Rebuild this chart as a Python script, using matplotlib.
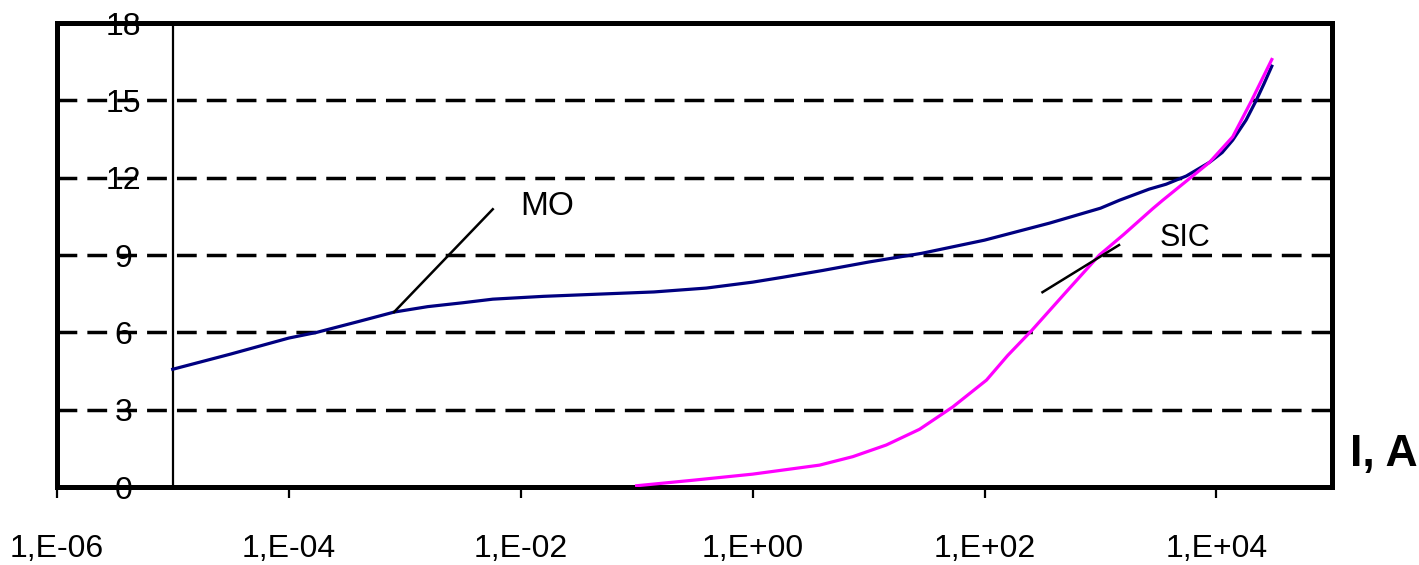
import matplotlib
matplotlib.use("Agg")
import matplotlib.pyplot as plt

# MO curve: current (A) vs voltage
mo_i = [1e-5, 3.16e-5, 1e-4, 1.74e-4, 3.98e-4, 8.13e-4, 1.58e-3, 3.16e-3,
        5.75e-3, 1.58e-2, 5.01e-2, 0.141, 0.398, 1.0, 1.82, 3.98, 10, 28.8,
        100, 363, 1000, 1459, 2630, 3680, 5500, 8710, 11200, 13800, 18000,
        22000, 25700, 30000]
mo_u = [4.57, 5.16, 5.78, 6.0, 6.42, 6.79, 7.0, 7.15, 7.29, 7.40, 7.49, 7.57,
        7.72, 7.95, 8.14, 8.40, 8.73, 9.07, 9.58, 10.24, 10.82, 11.13, 11.56,
        11.75, 12.07, 12.6, 12.98, 13.46, 14.24, 15.0, 15.65, 16.33]

# SIC curve
sic_i = [0.1, 0.316, 1, 3.78, 7.33, 14.2, 27.5, 53.3, 104, 158, 257, 501, 977,
         1585, 2818, 3443, 5888, 8710, 13800, 19950, 30000]
sic_u = [0.05, 0.27, 0.50, 0.85, 1.18, 1.63, 2.24, 3.11, 4.15, 5.1, 6.09, 7.55,
         9.0, 9.8, 10.8, 11.13, 11.98, 12.6, 13.59, 14.97, 16.59]

x_ticks = [1e-6, 1e-4, 1e-2, 1e0, 1e2, 1e4]
x_labels = ['1,E-06', '1,E-04', '1,E-02', '1,E+00', '1,E+02', '1,E+04']
y_ticks = [0, 3, 6, 9, 12, 15, 18]

plt.rcParams['font.family'] = ['Liberation Sans', 'DejaVu Sans']

fig = plt.figure(figsize=(14.19, 5.65), dpi=100)
ax = fig.add_axes([0.040, 0.138, 0.899, 0.821])

ax.set_xscale('log')
ax.set_xlim(1e-6, 1e5)
ax.set_ylim(0, 18)

ax.grid(True, axis='y', color='black', linewidth=2.5, linestyle=(0, (5.7, 2.9)))
ax.set_axisbelow(True)

# vertical axis line drawn at 1e-5
ax.axvline(1e-5, color='black', linewidth=1.6, zorder=2)

ax.plot(mo_i, mo_u, color='#000080', linewidth=2.3, zorder=3)
ax.plot(sic_i, sic_u, color='#FF00FF', linewidth=2.3, zorder=3)

# leader lines and labels
ax.plot([8.1e-4, 5.75e-3], [6.79, 10.78], color='black', linewidth=1.8, zorder=3)
ax.plot([316, 1445], [7.56, 9.39], color='black', linewidth=1.8, zorder=3)
ax.text(1.7e-2, 10.9, 'MO', fontsize=24, ha='center', va='center')
ax.text(5.3e3, 9.65, 'SIC', fontsize=22, ha='center', va='center')

for s in ax.spines.values():
    s.set_linewidth(3.6)

ax.set_xticks(x_ticks)
ax.set_xticklabels(x_labels, fontsize=23)
ax.xaxis.set_minor_locator(matplotlib.ticker.NullLocator())
ax.tick_params(axis='x', direction='out', length=8, width=1.6, pad=26)

ax.set_yticks(y_ticks)
ax.set_yticklabels([str(v) for v in y_ticks], fontsize=23)
ax.tick_params(axis='y', length=0, pad=-48)
for lab in ax.get_yticklabels():
    lab.set_horizontalalignment('center')

fig.text(0.975, 0.195, 'I, A', fontsize=32, fontweight='bold', ha='center', va='center')

fig.savefig('out.png', dpi=100)
